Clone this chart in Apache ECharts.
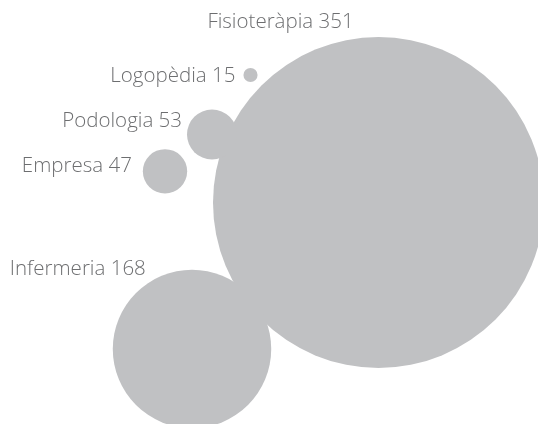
<!DOCTYPE html>
<html>
<head>
<meta charset="utf-8">
<style>html,body{margin:0;padding:0;background:#fff;}#c{width:538px;height:424px;}</style>
<script src="https://cdn.jsdelivr.net/npm/echarts@6/dist/echarts.min.js"></script>
</head>
<body>
<div id="c"></div>
<script>
const categories = ['Fisioteràpia', 'Logopèdia', 'Podologia', 'Empresa', 'Infermeria'];
const values = [351, 15, 53, 47, 168];
// bubble layout coordinates (axis units)
const bubbleX = [378.5, 250.5, 212, 165, 192];
const bubbleY = [202.5, 75, 134.5, 171.3, 349];

const labelCfg = [
  { position: 'top', distance: 4, offset: [-98, 0] },
  { position: 'left', distance: 8, offset: [0, 1] },
  { position: 'left', distance: 5, offset: [0, -13] },
  { position: 'left', distance: 11, offset: [0, -5] },
  { position: 'left', distance: 5, offset: [38, -80] }
];

const data = categories.map((c, i) => ({
  name: c,
  value: [bubbleX[i], bubbleY[i], values[i]],
  label: labelCfg[i]
}));

const chart = echarts.init(document.getElementById('c'), null, { renderer: 'canvas' });
chart.setOption({
  animation: false,
  grid: { left: 0, right: 0, top: 0, bottom: 0 },
  xAxis: { type: 'value', min: 0, max: 538, show: false },
  yAxis: { type: 'value', min: 0, max: 424, inverse: true, show: false },
  series: [{
    type: 'scatter',
    data: data,
    symbolSize: v => v[2] * 0.943,
    itemStyle: { color: '#c0c1c3', opacity: 1 },
    label: {
      show: true,
      formatter: p => p.name + ' ' + p.value[2],
      color: '#6d6e70',
      fontFamily: 'Open Sans',
      fontWeight: 300,
      fontSize: 20.5
    },
    emphasis: { disabled: true }
  }]
});
</script>
</body>
</html>
